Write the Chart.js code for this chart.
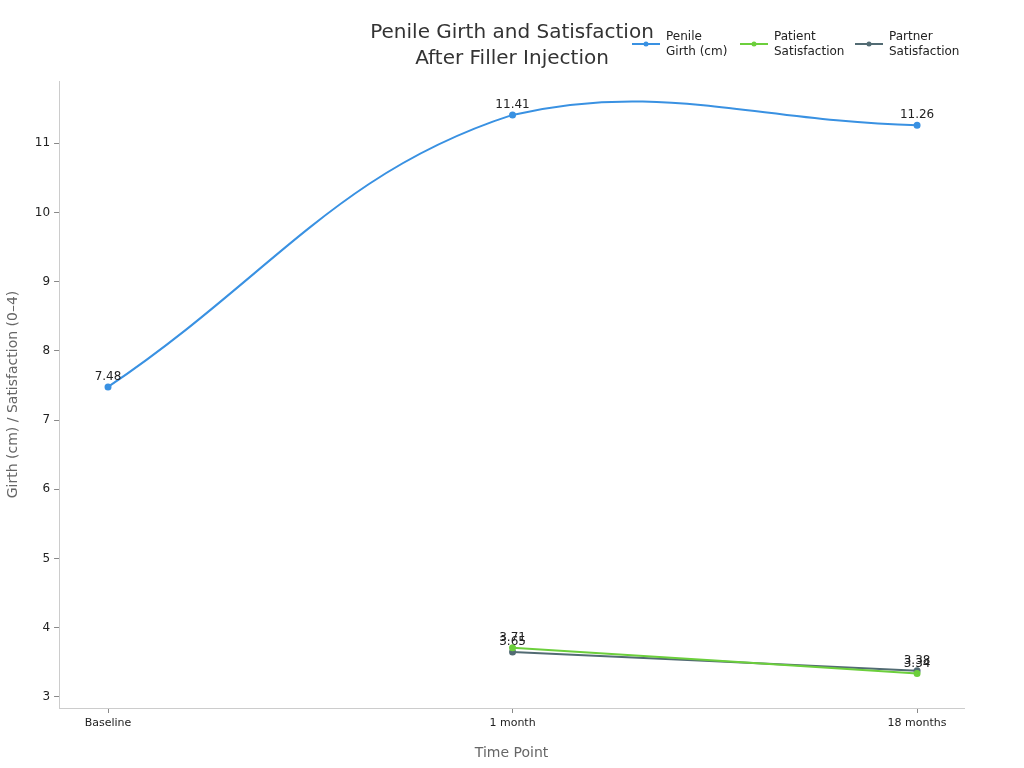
<!DOCTYPE html>
<html>
<head>
<meta charset="utf-8">
<script src="https://cdn.jsdelivr.net/npm/chart.js@4/dist/chart.umd.min.js"></script>
<style>
  html, body { margin: 0; padding: 0; background: #fff; }
  #wrap { width: 1024px; height: 768px; }
</style>
</head>
<body>
<div id="wrap"><canvas id="chart" width="1024" height="768"></canvas></div>
<script>
// data
const timePoints = ["Baseline", "1 month", "18 months"];
const girth = [7.48, 11.41, 11.26];
const patientSat = [null, 3.71, 3.34];
const partnerSat = [null, 3.65, 3.38];
const yTicks = [3, 4, 5, 6, 7, 8, 9, 10, 11];

const titleLines = ["Penile Girth and Satisfaction", "After Filler Injection"];
const seriesNames = [["Penile", "Girth (cm)"], ["Patient", "Satisfaction"], ["Partner", "Satisfaction"]];
const colors = ["#3991e2", "#6ccf3c", "#526b73"];

const toPoints = (arr) => arr.map((v, i) => ({ x: i, y: v }));

const FONT = "'DejaVu Sans', sans-serif";

// value labels above each point
const valueLabels = {
  id: "valueLabels",
  afterDatasetsDraw(chart) {
    const ctx = chart.ctx;
    ctx.save();
    ctx.font = "12px " + FONT;
    ctx.fillStyle = "#222";
    ctx.textAlign = "center";
    ctx.textBaseline = "bottom";
    chart.data.datasets.forEach((ds, di) => {
      chart.getDatasetMeta(di).data.forEach((pt, i) => {
        const v = ds.data[i].y;
        if (v === null) return;
        ctx.fillText(v.toFixed(2), pt.x, pt.y - 4);
      });
    });
    ctx.restore();
  }
};

// title centred on the page + legend at top right with two-line labels
const topText = {
  id: "topText",
  afterDraw(chart) {
    const ctx = chart.ctx;
    ctx.save();
    ctx.font = "20px " + FONT;
    ctx.fillStyle = "#333";
    ctx.textAlign = "center";
    ctx.textBaseline = "middle";
    ctx.fillText(titleLines[0], 512, 33);
    ctx.fillText(titleLines[1], 512, 59);

    const starts = [632, 740, 855];
    ctx.font = "12px " + FONT;
    ctx.textAlign = "left";
    starts.forEach((x, i) => {
      const y = 44;
      ctx.strokeStyle = colors[i];
      ctx.lineWidth = 2;
      ctx.beginPath();
      ctx.moveTo(x, y);
      ctx.lineTo(x + 28, y);
      ctx.stroke();
      ctx.fillStyle = colors[i];
      ctx.beginPath();
      ctx.arc(x + 14, y, 2.5, 0, Math.PI * 2);
      ctx.fill();
      ctx.fillStyle = "#222";
      ctx.fillText(seriesNames[i][0], x + 34, 37);
      ctx.fillText(seriesNames[i][1], x + 34, 52);
    });
    ctx.restore();
  }
};

const mkSet = (label, arr, c) => ({
  label: label,
  data: toPoints(arr),
  borderColor: c,
  backgroundColor: c,
  borderWidth: 2,
  pointRadius: 2.5,
  pointHoverRadius: 2.5,
  tension: 0.4,
  spanGaps: false
});

new Chart(document.getElementById("chart"), {
  type: "line",
  data: {
    datasets: [
      mkSet("Penile Girth (cm)", girth, colors[0]),
      mkSet("Patient Satisfaction", patientSat, colors[1]),
      mkSet("Partner Satisfaction", partnerSat, colors[2])
    ]
  },
  options: {
    responsive: false,
    animation: false,
    events: [],
    layout: { padding: { left: 5, right: 60, top: 81, bottom: 6 } },
    plugins: {
      legend: { display: false },
      tooltip: { enabled: false },
      title: { display: false }
    },
    scales: {
      x: {
        type: "linear",
        min: -0.121,
        max: 2.116,
        afterBuildTicks: (scale) => { scale.ticks = timePoints.map((t, i) => ({ value: i })); },
        ticks: {
          callback: (v) => timePoints[v],
          color: "#222",
          font: { family: FONT, size: 11 },
          padding: 4,
          maxRotation: 0
        },
        grid: { drawOnChartArea: false, tickLength: 5, color: "#888" },
        border: { color: "#ccc" },
        title: {
          display: true,
          text: "Time Point",
          color: "#666",
          font: { family: FONT, size: 14 },
          padding: { top: 11, bottom: 0 }
        }
      },
      y: {
        min: 2.84,
        max: 11.9,
        afterBuildTicks: (scale) => { scale.ticks = yTicks.map((v) => ({ value: v })); },
        ticks: {
          color: "#222",
          font: { family: FONT, size: 12 },
          padding: 4
        },
        grid: { drawOnChartArea: false, tickLength: 5, color: "#888" },
        border: { color: "#ccc" },
        title: {
          display: true,
          text: "Girth (cm) / Satisfaction (0–4)",
          color: "#666",
          font: { family: FONT, size: 14 },
          padding: { top: 0, bottom: 9 }
        }
      }
    }
  },
  plugins: [valueLabels, topText]
});
</script>
</body>
</html>
